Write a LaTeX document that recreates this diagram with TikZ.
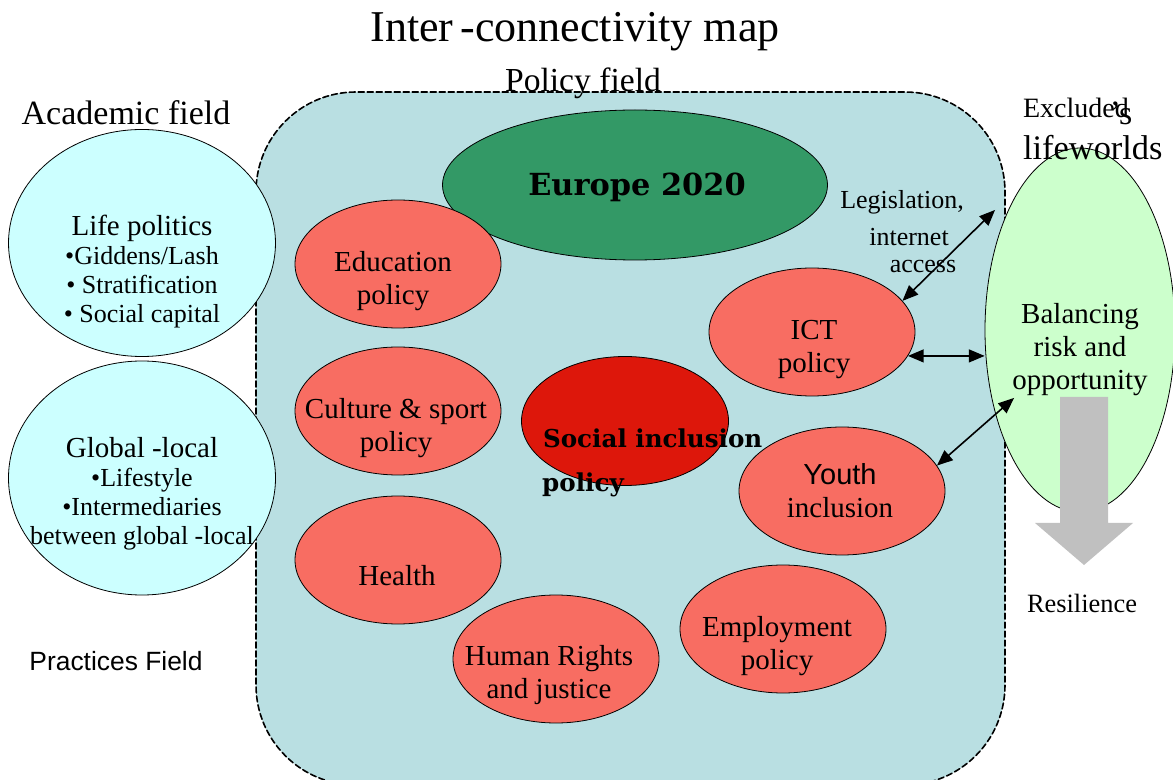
\documentclass[tikz,border=0pt]{standalone}
\usepackage{fontspec}
\setmainfont{Liberation Serif}
\setsansfont{Liberation Sans}
\newfontfamily\heavyserif{DejaVu Serif}
\usetikzlibrary{arrows,shapes.geometric}

\definecolor{fieldblue}{HTML}{B9DFE2}
\definecolor{acadcyan}{HTML}{CCFFFF}
\definecolor{eurogreen}{HTML}{339966}
\definecolor{polred}{HTML}{F86D62}
\definecolor{inclred}{HTML}{DD170B}
\definecolor{lifegreen}{HTML}{CCFFCC}
\definecolor{resgray}{HTML}{C0C0C0}

\tikzset{
  pol/.style={ellipse,draw=black,fill=polred,minimum width=103pt,minimum height=64pt,inner sep=0pt},
  acad/.style={ellipse,draw=black,fill=acadcyan,minimum width=133.5pt,inner sep=0pt},
  ptxt/.style={align=center,inner sep=0pt,font=\fontsize{14.5}{16.5}\selectfont},
  atxt/.style={align=center,inner sep=0pt,font=\fontsize{13}{14.5}\selectfont},
  link/.style={<->,thick}
}

\begin{document}
\begin{tikzpicture}[line cap=round,line join=round,>=triangle 45,x=0.5pt,y=-0.5pt]
\useasboundingbox (0,0) rectangle (1173,780);
\clip (0,0) rectangle (1173,780);

% policy field
\draw[fill=fieldblue,dash pattern=on 3pt off 1.5pt,thick,rounded corners=50pt] (256,92) rectangle (1005,785);

% academic field
\node[acad,minimum height=117pt] (glob) at (142,478) {};
\node[acad,minimum height=113.5pt] (life) at (142,243) {};

% excluded's lifeworlds
\node[ellipse,draw=black,fill=lifegreen,minimum width=95pt,minimum height=182pt,inner sep=0pt] (lw) at (1080,330) {};
\fill[resgray] (1060,397)--(1108,397)--(1108,523)--(1133,523)--(1084,565)--(1035,523)--(1060,523)--cycle;

% policies
\node[ellipse,draw=black,fill=eurogreen,minimum width=192.5pt,minimum height=75pt,inner sep=0pt] (eu) at (635,185) {};
\node[pol] (edu) at (398,264) {};
\node[pol] (cult) at (398,411) {};
\node[pol] (health) at (398,560) {};
\node[pol] (hr) at (556,659) {};
\node[pol] (emp) at (783,629) {};
\node[pol] (ict) at (812,332) {};
\node[pol] (youth) at (842,491) {};
\node[ellipse,draw=black,fill=inclred,minimum width=103.5pt,minimum height=64.5pt,inner sep=0pt] (incl) at (625,421) {};

\coordinate (lw1) at (995,210);
\coordinate (lw3) at (1014,398);
\draw[link] (ict.19) -- (lw1);
\draw[link] (ict.-14) -- (ict.-14 -| lw.west);
\draw[link] (youth.15) -- (lw3);

% texts
\node[font=\fontsize{22}{24}\selectfont] (title) at (575,32) {Inter\,-connectivity map};
\node[font=\fontsize{16.8}{18}\selectfont] (polfield) at (583,83) {Policy field};
\node[font=\fontsize{17}{19}\selectfont] (acfield) at (126,113) {Academic field};
\node[font=\sffamily\fontsize{13.2}{15}\selectfont] (pract) at (116,661) {Practices Field};

\node[atxt] (life-t) at (142,272) {{\fontsize{14.5}{14.5}\selectfont Life politics}\\•Giddens/Lash\\• Stratification\\• Social capital};
\node[atxt] (glob-t) at (142,494) {{\fontsize{14.5}{14.5}\selectfont Global -local}\\•Lifestyle\\•Intermediaries\\between global -local};

\node[font=\heavyserif\bfseries\fontsize{15.2}{17}\selectfont] (eu-t) at (637,187) {Europe 2020};
\node[ptxt] (edu-t) at (393,281) {Education\\policy};
\node[ptxt] (cult-t) at (396,428) {Culture \& sport\\policy};
\node[ptxt] (health-t) at (397,576) {Health};
\node[ptxt] (hr-t) at (549,675) {Human Rights\\and justice};
\node[ptxt] (emp-t) at (777,646) {Employment\\policy};
\node[ptxt] (ict-t) at (814,350) {ICT\\policy};
\node[ptxt] (youth-t) at (840,491) {{\sffamily Youth}\\inclusion};
\node[font=\heavyserif\bfseries\fontsize{12.3}{14}\selectfont,anchor=west] (incl-t) at (536,438) {Social inclusion};
\node[font=\heavyserif\bfseries\fontsize{12.3}{14}\selectfont] (incl-t2) at (583,485) {policy};

\node[align=center,font=\fontsize{14.5}{16.5}\selectfont] (lw-t) at (1080,350) {Balancing\\risk and\\opportunity};
\node[font=\fontsize{13}{15}\selectfont] (leg1) at (902,202) {Legislation,};
\node[font=\fontsize{13}{15}\selectfont] (leg2) at (909,237) {internet};
\node[font=\fontsize{13}{15}\selectfont] (leg3) at (923,267) {access};
\node[font=\fontsize{14}{15}\selectfont,anchor=west] (excl) at (1016,108) {Excluded};
\node[font=\fontsize{17}{17}\selectfont] (excl-s) at (1121,113) {’s};
\node[font=\fontsize{17.2}{19}\selectfont,anchor=west] (lwname) at (1016,148) {lifeworlds};
\node[font=\fontsize{13.2}{15}\selectfont] (res) at (1082,603) {Resilience};
\end{tikzpicture}
\end{document}
